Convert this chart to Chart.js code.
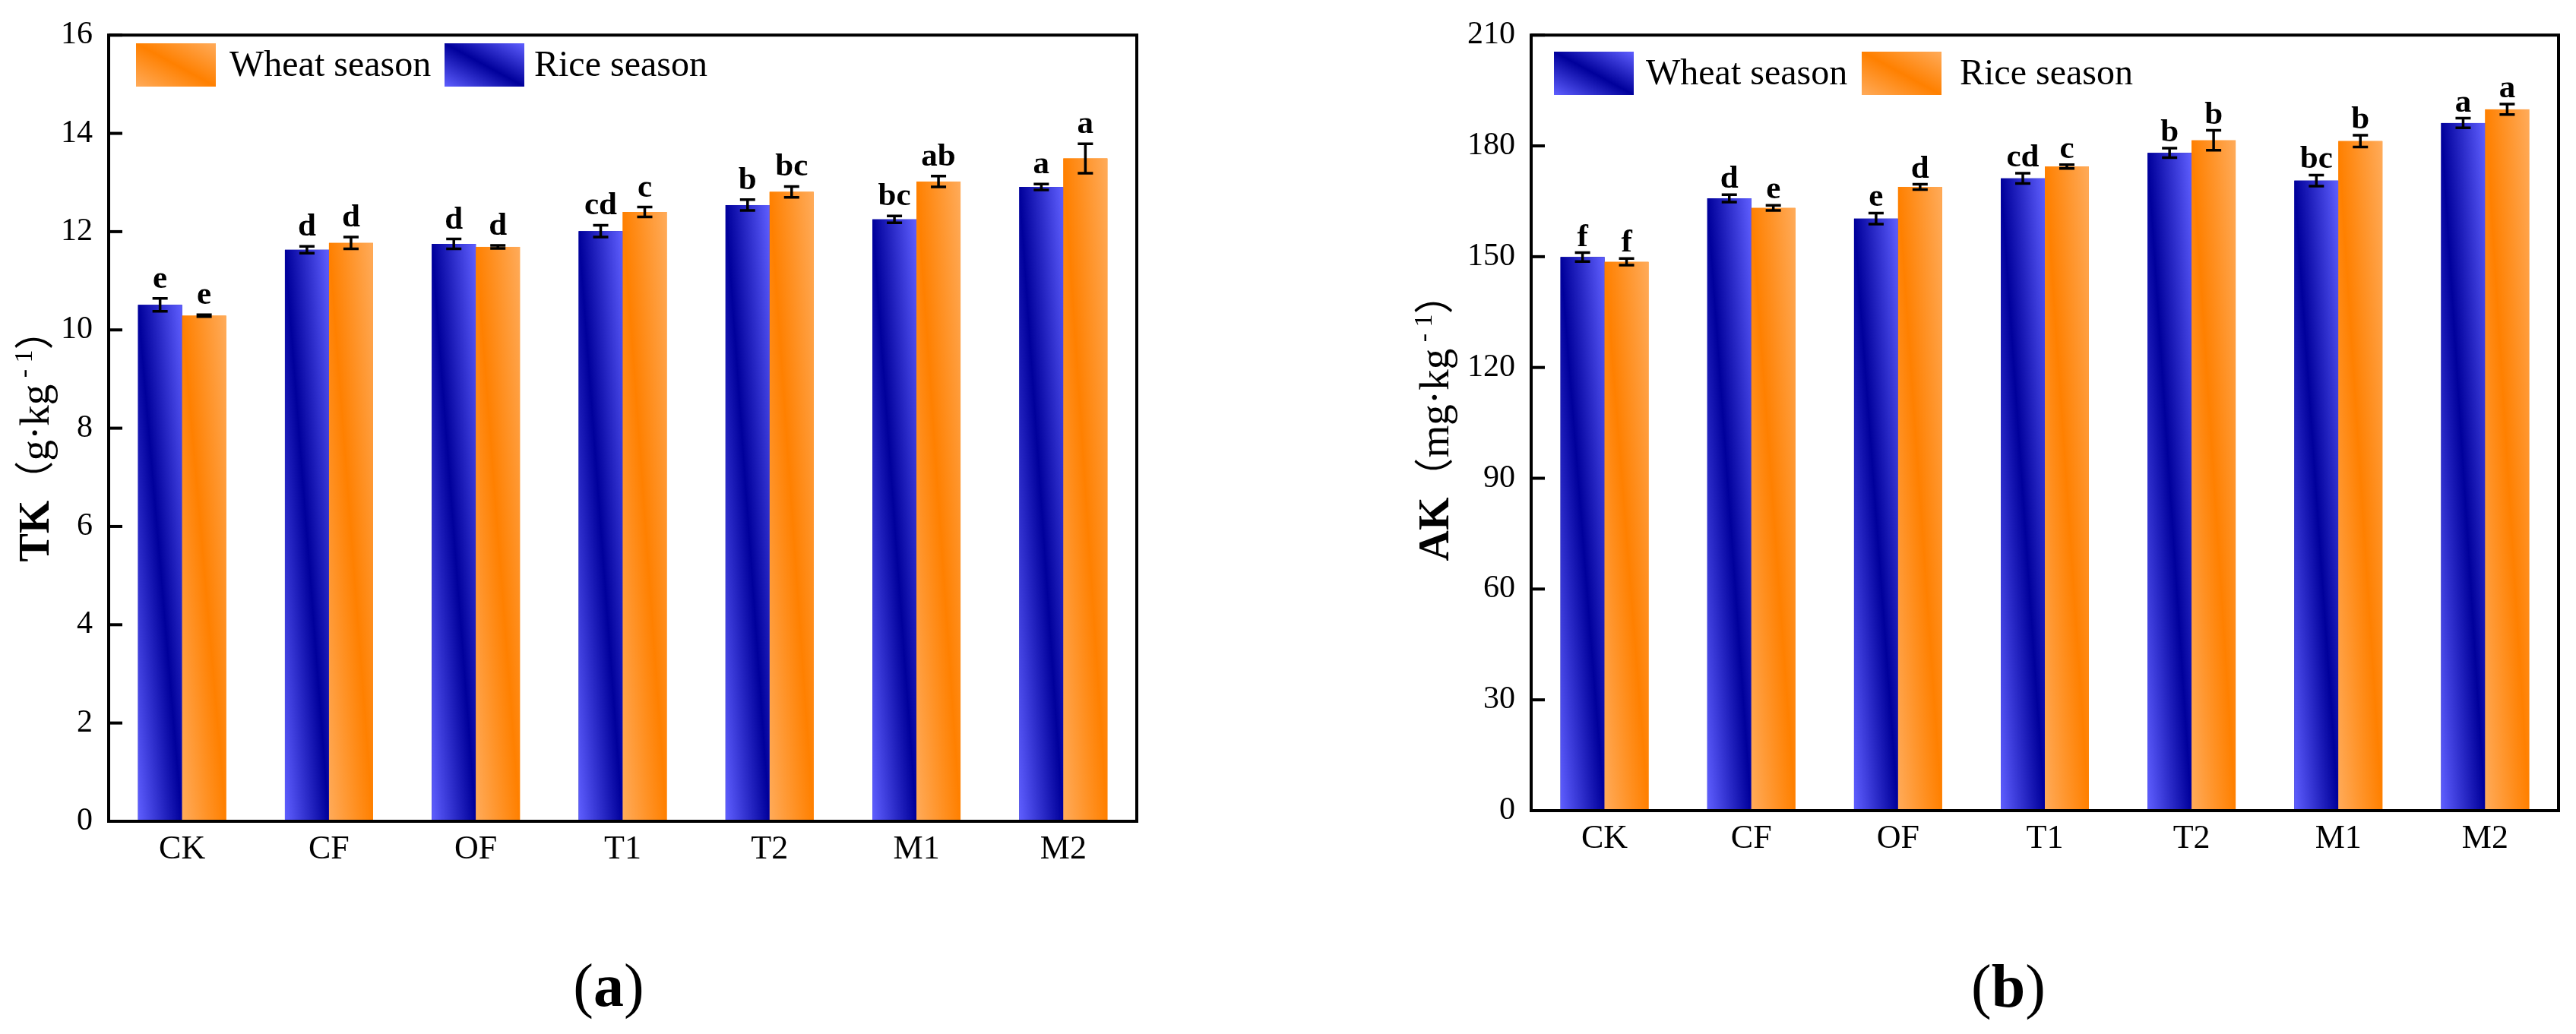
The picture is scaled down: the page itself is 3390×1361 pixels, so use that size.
<!DOCTYPE html>
<html>
<head>
<meta charset="utf-8">
<script src="https://cdn.jsdelivr.net/npm/chart.js@4.4.1/dist/chart.umd.min.js"></script>
<style>
  body { margin: 0; background: #fff; }
  #wrap { position: relative; width: 3390px; height: 1361px; background: #fff; }
  .panel { position: absolute; top: 0; }
</style>
</head>
<body>
<div id="wrap">
  <div class="panel" style="left:0"><canvas id="chartA" width="1700" height="1361"></canvas></div>
  <div class="panel" style="left:1700px"><canvas id="chartB" width="1690" height="1361"></canvas></div>
</div>
<script>
// Treatments on the x axis
const categories = ['CK', 'CF', 'OF', 'T1', 'T2', 'M1', 'M2'];

// (a) total potassium, g/kg
const tkBlue = [10.51, 11.63, 11.75, 12.01, 12.54, 12.25, 12.91];
const tkBlueErr = [0.13, 0.07, 0.10, 0.12, 0.11, 0.07, 0.06];
const tkBlueSig = ['e', 'd', 'd', 'cd', 'b', 'bc', 'a'];
const tkOrange = [10.29, 11.77, 11.69, 12.40, 12.81, 13.02, 13.49];
const tkOrangeErr = [0.02, 0.12, 0.03, 0.10, 0.11, 0.11, 0.30];
const tkOrangeSig = ['e', 'd', 'd', 'c', 'bc', 'ab', 'a'];
const tkTicks = { min: 0, max: 16, step: 2 };

// (b) available potassium, mg/kg
const akBlue = [149.9, 165.8, 160.3, 171.2, 178.1, 170.6, 186.2];
const akBlueErr = [1.2, 1.0, 1.5, 1.4, 1.3, 1.5, 1.3];
const akBlueSig = ['f', 'd', 'e', 'cd', 'b', 'bc', 'a'];
const akOrange = [148.6, 163.2, 168.9, 174.4, 181.5, 181.3, 189.9];
const akOrangeErr = [0.9, 0.7, 0.7, 0.5, 2.7, 1.6, 1.4];
const akOrangeSig = ['f', 'e', 'd', 'c', 'b', 'b', 'a'];
const akTicks = { min: 0, max: 210, step: 30 };

const SERIF = '"Liberation Serif", "Times New Roman", serif';
const BLUE = { light: '#5f5fff', dark: '#00009b' };
const ORANGE = { light: '#ffab5a', dark: '#ff8000' };

// light -> dark -> light, dark band running along the top-left / bottom-right diagonal
function diagGradient(ctx, x0, y0, x1, y1, col) {
    const w = x1 - x0, h = y1 - y0;
    const L = Math.sqrt(w * w + h * h);
    const nx = h / L, ny = -w / L;
    const d = w * h / L;
    const cx = (x0 + x1) / 2, cy = (y0 + y1) / 2;
    const g = ctx.createLinearGradient(cx - nx * d, cy - ny * d, cx + nx * d, cy + ny * d);
    g.addColorStop(0, col.light);
    g.addColorStop(0.5, col.dark);
    g.addColorStop(1, col.light);
    return g;
}

const panelPlugin = {
    id: 'panel',
    afterDatasetsDraw(chart) {
        const ctx = chart.ctx;
        const cfg = chart.options.plugins.panel;
        const yScale = chart.scales.y;
        ctx.save();
        chart.data.datasets.forEach((ds, di) => {
            const meta = chart.getDatasetMeta(di);
            meta.data.forEach((el, i) => {
                // gradient fill over the bar geometry computed by Chart.js
                const left = el.x - el.width / 2, right = el.x + el.width / 2;
                ctx.fillStyle = diagGradient(ctx, left, el.y, right, el.base, ds.colors);
                ctx.fillRect(left, el.y, right - left, el.base - el.y);
            });
        });
        chart.data.datasets.forEach((ds, di) => {
            const meta = chart.getDatasetMeta(di);
            meta.data.forEach((el, i) => {
                const v = ds.data[i], e = ds.err[i];
                const yt = yScale.getPixelForValue(v + e);
                const yb = yScale.getPixelForValue(v - e);
                ctx.strokeStyle = '#000';
                ctx.lineWidth = 3.5;
                ctx.beginPath();
                ctx.moveTo(el.x, yt); ctx.lineTo(el.x, yb);
                ctx.moveTo(el.x - 10, yt); ctx.lineTo(el.x + 10, yt);
                ctx.moveTo(el.x - 10, yb); ctx.lineTo(el.x + 10, yb);
                ctx.stroke();
                ctx.fillStyle = '#000';
                ctx.font = 'bold 43px ' + SERIF;
                ctx.textAlign = 'center';
                ctx.textBaseline = 'alphabetic';
                ctx.fillText(ds.sig[i], el.x, yt - cfg.sigGap);
            });
        });
        ctx.restore();
    },
    afterDraw(chart) {
        const ctx = chart.ctx;
        const cfg = chart.options.plugins.panel;
        const a = chart.chartArea;
        const yScale = chart.scales.y;
        ctx.save();
        // frame
        ctx.strokeStyle = '#000';
        ctx.lineWidth = 4;
        ctx.strokeRect(a.left, a.top, a.right - a.left, a.bottom - a.top);
        // inward ticks on the y axis
        yScale.ticks.forEach(t => {
            const y = yScale.getPixelForValue(t.value);
            ctx.beginPath();
            ctx.moveTo(a.left, y); ctx.lineTo(a.left + 18, y);
            ctx.stroke();
        });
        // legend
        ctx.textAlign = 'left';
        ctx.textBaseline = 'middle';
        ctx.font = '48px ' + SERIF;
        cfg.legend.forEach(item => {
            const ds = chart.data.datasets[item.ds];
            ctx.fillStyle = diagGradient(ctx, item.x, cfg.legendTop, item.x + 105, cfg.legendTop + 57, ds.colors);
            ctx.fillRect(item.x, cfg.legendTop, 105, 57);
            ctx.fillStyle = '#000';
            ctx.fillText(ds.label, item.tx, cfg.legendTop + 30);
        });
        // y axis title, rotated
        const parts = cfg.yTitle;
        let total = 0;
        parts.forEach(p => { ctx.font = p.font; p.w = ctx.measureText(p.text).width; total += p.w; });
        ctx.translate(cfg.yTitleX, cfg.yTitleY);
        ctx.rotate(-Math.PI / 2);
        ctx.textBaseline = 'alphabetic';
        ctx.fillStyle = '#000';
        let x = -total / 2;
        parts.forEach(p => {
            ctx.font = p.font;
            ctx.fillText(p.text, x, -(p.rise || 0));
            x += p.w;
        });
        ctx.setTransform(1, 0, 0, 1, 0, 0);
        // panel label
        const lab = cfg.panelLabel;
        const lp = [
            { text: '(', font: '80px ' + SERIF },
            { text: lab.letter, font: 'bold 80px ' + SERIF },
            { text: ')', font: '80px ' + SERIF }
        ];
        let lw = 0;
        lp.forEach(p => { ctx.font = p.font; p.w = ctx.measureText(p.text).width; lw += p.w; });
        let lx = lab.x - lw / 2;
        lp.forEach(p => { ctx.font = p.font; ctx.fillText(p.text, lx, lab.y); lx += p.w; });
        ctx.restore();
    }
};

function makeChart(id, opts) {
    const ctx = document.getElementById(id).getContext('2d');
    return new Chart(ctx, {
        type: 'bar',
        data: {
            labels: categories,
            datasets: [
                { label: opts.blueLabel, data: opts.blue, err: opts.blueErr, sig: opts.blueSig,
                  colors: BLUE, backgroundColor: BLUE.dark, borderWidth: 0 },
                { label: opts.orangeLabel, data: opts.orange, err: opts.orangeErr, sig: opts.orangeSig,
                  colors: ORANGE, backgroundColor: ORANGE.dark, borderWidth: 0 }
            ]
        },
        options: {
            responsive: false,
            animation: false,
            devicePixelRatio: 1,
            categoryPercentage: 0.6,
            barPercentage: 1.0,
            layout: { padding: { left: 0, top: opts.top, right: opts.right, bottom: 0 } },
            plugins: {
                legend: { display: false },
                tooltip: { enabled: false },
                panel: {
                    sigGap: opts.sigGap,
                    legend: opts.legend,
                    legendTop: opts.legendTop,
                    yTitle: opts.yTitle,
                    yTitleX: opts.yTitleX,
                    yTitleY: opts.yTitleY,
                    panelLabel: opts.panelLabel
                }
            },
            scales: {
                x: {
                    grid: { display: false, drawTicks: false },
                    border: { display: false },
                    ticks: { color: '#000', font: { family: SERIF, size: 44 }, padding: 11 },
                    afterFit(s) { s.height = opts.xHeight; }
                },
                y: {
                    min: opts.ticks.min,
                    max: opts.ticks.max,
                    grid: { display: false, drawTicks: false },
                    border: { display: false },
                    ticks: { stepSize: opts.ticks.step, color: '#000', font: { family: SERIF, size: 42 }, padding: 21 },
                    afterFit(s) { s.width = opts.yWidth; }
                }
            }
        },
        plugins: [panelPlugin]
    });
}

const normal = '55px ' + SERIF;
const cjk = '52px "Noto Sans CJK SC", ' + SERIF;
const sup = '34px ' + SERIF;

makeChart('chartA', {
    blue: tkBlue, blueErr: tkBlueErr, blueSig: tkBlueSig, blueLabel: 'Rice season',
    orange: tkOrange, orangeErr: tkOrangeErr, orangeSig: tkOrangeSig, orangeLabel: 'Wheat season',
    ticks: tkTicks,
    top: 39, right: 204, yWidth: 143, xHeight: 280,
    sigGap: 14,
    legendTop: 57,
    legend: [{ ds: 1, x: 179, tx: 302 }, { ds: 0, x: 585, tx: 703 }],
    yTitle: [
        { text: 'TK', font: 'bold 56px ' + SERIF },
        { text: '（', font: cjk },
        { text: 'g·kg', font: normal },
        { text: ' - 1', font: sup, rise: 22 },
        { text: '）', font: cjk }
    ],
    yTitleX: 64, yTitleY: 574,
    panelLabel: { letter: 'a', x: 801, y: 1324 }
});

makeChart('chartB', {
    blue: akBlue, blueErr: akBlueErr, blueSig: akBlueSig, blueLabel: 'Wheat season',
    orange: akOrange, orangeErr: akOrangeErr, orangeSig: akOrangeSig, orangeLabel: 'Rice season',
    ticks: akTicks,
    top: 44, right: 23, yWidth: 315, xHeight: 294,
    sigGap: 9,
    legendTop: 68,
    legend: [{ ds: 0, x: 345, tx: 466 }, { ds: 1, x: 750, tx: 879 }],
    yTitle: [
        { text: 'AK', font: 'bold 56px ' + SERIF },
        { text: '（', font: cjk },
        { text: 'mg·kg', font: normal },
        { text: ' - 1', font: sup, rise: 22 },
        { text: '）', font: cjk }
    ],
    yTitleX: 206, yTitleY: 550,
    panelLabel: { letter: 'b', x: 943, y: 1325 }
});
</script>
</body>
</html>
